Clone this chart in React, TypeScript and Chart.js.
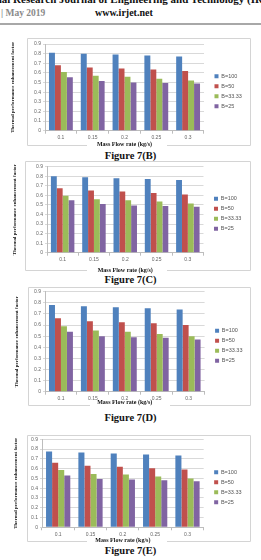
import React, { useEffect, useRef } from "react";
import { Chart, registerables } from "chart.js";

Chart.register(...registerables);

// ---- data ----
const categories = ["0.1", "0.15", "0.2", "0.25", "0.3"];
const seriesNames = ["B=100", "B=50", "B=33.33", "B=25"];
const seriesColors = ["#4F81BD", "#C0504D", "#9BBB59", "#8064A2"];
const yMin = 0;
const yMax = 0.9;
const yStep = 0.1;
const xTitle = "Mass Flow rate (kg/s)";
const yTitle = "Thermal performance enhancement factor";

const figB_B100 = [0.81, 0.8, 0.79, 0.78, 0.77];
const figB_B50 = [0.68, 0.655, 0.645, 0.635, 0.62];
const figB_B33 = [0.61, 0.57, 0.56, 0.54, 0.52];
const figB_B25 = [0.555, 0.515, 0.5, 0.495, 0.49];

const figC_B100 = [0.8, 0.79, 0.78, 0.77, 0.76];
const figC_B50 = [0.675, 0.65, 0.64, 0.625, 0.61];
const figC_B33 = [0.595, 0.56, 0.55, 0.535, 0.515];
const figC_B25 = [0.55, 0.51, 0.495, 0.49, 0.48];

const figD_B100 = [0.78, 0.77, 0.76, 0.75, 0.74];
const figD_B50 = [0.66, 0.635, 0.625, 0.615, 0.6];
const figD_B33 = [0.59, 0.55, 0.54, 0.52, 0.5];
const figD_B25 = [0.54, 0.5, 0.49, 0.485, 0.47];

const figE_B100 = [0.775, 0.765, 0.755, 0.745, 0.735];
const figE_B50 = [0.66, 0.63, 0.62, 0.605, 0.59];
const figE_B33 = [0.585, 0.545, 0.54, 0.52, 0.5];
const figE_B25 = [0.53, 0.495, 0.49, 0.48, 0.47];

// ---- layout (page coordinates) ----
const PAGE_W = 261;
const figures = [
  {
    caption: "Figure 7(B)", captionY: 156,
    values: [figB_B100, figB_B50, figB_B33, figB_B25],
    top: 30, height: 120, plot: [45, 208, 44, 130.7], xTitleY: 144, yTitleX: 13,
    frame: [27, 38, 250, 145], gap: [87, 167],
  },
  {
    caption: "Figure 7(C)", captionY: 280,
    values: [figC_B100, figC_B50, figC_B33, figC_B25],
    top: 160, height: 114, plot: [47, 207, 166.7, 252.7], xTitleY: 270, yTitleX: 15,
    frame: [25, 161, 250, 270], gap: [87, 167],
  },
  {
    caption: "Figure 7(D)", captionY: 417.7,
    values: [figD_B100, figD_B50, figD_B33, figD_B25],
    top: 284, height: 124, plot: [45, 208, 291.7, 391.7], xTitleY: 402.7, yTitleX: 16.5,
    frame: [28, 287, 250, 405], gap: [90, 170],
  },
  {
    caption: "Figure 7(E)", captionY: 551,
    values: [figE_B100, figE_B50, figE_B33, figE_B25],
    top: 428, height: 117, plot: [42, 207, 439.3, 527.3], xTitleY: 540, yTitleX: 16,
    frame: [27, 435, 250, 541], gap: [87, 167],
  },
];

const SANS = "'Liberation Sans', Arial, sans-serif";
const SERIF = "'Liberation Serif', 'Times New Roman', serif";
const LEG_FONT = 5.5;
const LEG_PAD = 4.5;
const LEG_BOX = 4;
const GAP_W = 6;

const framePlugin = {
  id: "pageFrame",
  beforeDraw(chart: any, _args: any, opts: any) {
    if (!opts || !opts.box) return;
    const ctx = chart.ctx;
    const [l, t, r, b] = opts.box;
    const [g1, g2] = opts.gap;
    ctx.save();
    ctx.strokeStyle = "#d4d4d4";
    ctx.lineWidth = 1;
    ctx.beginPath();
    ctx.moveTo(g1, b + 0.5);
    ctx.lineTo(l + 0.5, b + 0.5);
    ctx.lineTo(l + 0.5, t + 0.5);
    ctx.lineTo(r + 0.5, t + 0.5);
    ctx.lineTo(r + 0.5, b + 0.5);
    ctx.lineTo(g2, b + 0.5);
    ctx.stroke();
    ctx.restore();
  },
};

function legendTextWidth(): number {
  const c = document.createElement("canvas").getContext("2d");
  if (!c) return 21;
  c.font = `${LEG_FONT}px ${SANS}`;
  return Math.max(...seriesNames.map((n) => c.measureText(n).width));
}

function BarFigure({ fig }: { fig: (typeof figures)[number] }) {
  const ref = useRef<HTMLCanvasElement | null>(null);
  useEffect(() => {
    if (!ref.current) return;
    const [pl, pr, pt, pb] = fig.plot;
    const H = fig.height;
    const padLeft = fig.yTitleX - 5;
    const legendW = 2 * LEG_PAD + LEG_BOX + LEG_FONT / 2 + legendTextWidth();
    const padRight = PAGE_W - pr - GAP_W - legendW;
    const plotTopRel = pt - fig.top;
    const plotBottomRel = pb - fig.top;
    const xTitlePad = Math.max(0, H - (fig.xTitleY - fig.top) - 3.6);
    const tickFont = { size: 5, family: SANS };
    const chart = new Chart(ref.current, {
      type: "bar",
      data: {
        labels: categories,
        datasets: seriesNames.map((name, i) => ({
          label: name,
          data: fig.values[i],
          backgroundColor: seriesColors[i],
          borderWidth: 0,
          categoryPercentage: 0.75,
          barPercentage: 1.0,
          yAxisID: "y",
        })),
      },
      options: {
        responsive: false,
        animation: false,
        devicePixelRatio: 1,
        layout: { padding: { left: padLeft, right: padRight, top: plotTopRel, bottom: 0 } },
        plugins: {
          tooltip: { enabled: false },
          legend: {
            position: "right",
            fullSize: false,
            align: "center",
            title: { display: true, text: "", font: { size: 5 }, padding: 1 },
            labels: {
              boxWidth: LEG_BOX,
              boxHeight: LEG_BOX,
              padding: LEG_PAD,
              color: "#555",
              font: { size: LEG_FONT, family: SANS },
            },
          },
          pageFrame: {
            box: [fig.frame[0], fig.frame[1] - fig.top, fig.frame[2], fig.frame[3] - fig.top],
            gap: fig.gap,
          },
        } as any,
        scales: {
          x: {
            grid: { display: true, drawOnChartArea: false, drawTicks: true, tickLength: 3, color: "#bdbdbd", offset: true },
            border: { color: "#bdbdbd" },
            ticks: { font: tickFont, color: "#666", padding: 1, maxRotation: 0, autoSkip: false },
            title: {
              display: true,
              text: xTitle,
              color: "#111",
              font: { size: 6, family: SERIF, weight: "bold" },
              padding: { top: 0, bottom: xTitlePad },
            },
            afterFit: (s: any) => {
              s.height = H - plotBottomRel;
            },
          },
          y: {
            min: yMin,
            max: yMax,
            ticks: {
              stepSize: yStep,
              font: tickFont,
              color: "#666",
              padding: 2,
              callback: (v: any) => (Number(v) === 0 ? "0" : Number(v).toFixed(1)),
            },
            grid: { color: "#d9d9d9", tickLength: 2 },
            border: { color: "#bdbdbd" },
            title: {
              display: true,
              text: yTitle,
              color: "#111",
              font: { size: 5, family: SERIF, weight: "bold" },
              padding: { top: 2, bottom: 0 },
            },
            afterFit: (s: any) => {
              s.width = pl - padLeft;
            },
          },
          gap: {
            type: "linear",
            position: "right",
            display: true,
            grid: { display: false },
            border: { display: false },
            ticks: { display: false },
            afterFit: (s: any) => {
              s.width = GAP_W;
            },
          },
        } as any,
      },
      plugins: [framePlugin],
    } as any);
    return () => chart.destroy();
  }, [fig]);
  return (
    <canvas
      ref={ref}
      width={PAGE_W}
      height={fig.height}
      style={{ position: "absolute", left: 0, top: fig.top, width: PAGE_W, height: fig.height }}
    />
  );
}

export default function App() {
  return (
    <div
      style={{
        position: "absolute",
        left: 0,
        top: 0,
        width: PAGE_W,
        height: 560,
        overflow: "hidden",
        background: "#fff",
      }}
    >
      <div style={{ position: "absolute", left: 0, top: 0, width: PAGE_W, height: 6, overflow: "hidden" }}>
        <div
          style={{
            position: "absolute",
            left: -52,
            top: -7,
            whiteSpace: "nowrap",
            font: `bold 11px ${SERIF}`,
            color: "#111",
          }}
        >
          International Research Journal of Engineering and Technology (IRJET)
        </div>
      </div>
      <div
        style={{
          position: "absolute",
          left: 1,
          top: 7,
          whiteSpace: "nowrap",
          font: `bold 9.5px ${SERIF}`,
          color: "#8a8a8a",
          lineHeight: "12px",
        }}
      >
        | May 2019
      </div>
      <div
        style={{
          position: "absolute",
          left: 95,
          top: 7,
          whiteSpace: "nowrap",
          font: `bold 10px ${SERIF}`,
          color: "#111",
          lineHeight: "12px",
        }}
      >
        www.irjet.net
      </div>
      <div style={{ position: "absolute", left: 0, top: 23, width: PAGE_W, height: 1.5, background: "#a8a8a8" }} />
      {figures.map((fig) => (
        <React.Fragment key={fig.caption}>
          <BarFigure fig={fig} />
          <div
            style={{
              position: "absolute",
              left: 0,
              width: PAGE_W,
              top: fig.captionY - 6,
              textAlign: "center",
              font: `bold 10.5px ${SERIF}`,
              lineHeight: "12px",
              color: "#111",
            }}
          >
            {fig.caption}
          </div>
        </React.Fragment>
      ))}
    </div>
  );
}
